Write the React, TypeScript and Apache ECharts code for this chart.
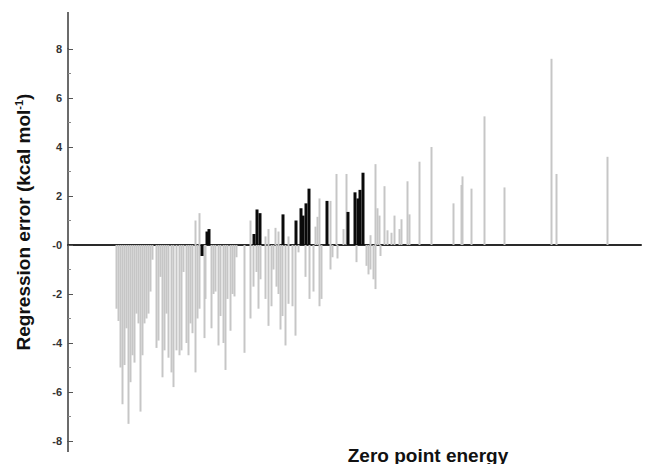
import React, { useEffect, useRef } from "react";
import * as echarts from "echarts";

// Zero point energy position (arbitrary units along the axis) and regression error (kcal/mol)
const grayZpe = [
  49, 51, 53, 55, 57, 59, 61, 63, 65, 67, 69, 71, 73, 75, 77, 79, 81, 83, 85, 89,
  91, 93, 95, 97, 99, 101, 104, 106, 109, 112, 114, 116, 119, 121, 123, 125, 128, 128, 130, 132,
  132, 137, 138, 144, 146, 148, 151, 153, 156, 158, 160, 163, 165, 167, 169, 177, 183, 183, 186, 189,
  191, 193, 198, 198, 201, 201, 204, 206, 208, 209, 211, 211, 213, 215, 218, 221, 221, 225, 228, 231,
  238, 242, 246, 248, 250, 252, 252, 254, 263, 263, 265, 269, 270, 276, 279, 289, 299, 301, 303, 303,
  306, 308, 308, 310, 312, 313, 317, 320, 324, 327, 332, 334, 340, 342, 352, 364, 386, 394, 395, 404,
  417, 437, 484, 489, 540,
];
const grayErr = [
  -2.6, -3.1, -5.0, -6.5, -4.9, -3.4, -7.3, -5.6, -4.5, -4.8, -2.8, -3.2, -6.8, -4.5, -3.2, -3.0, -2.8, -1.9, -0.6, -4.2,
  -3.9, -1.3, -5.4, -4.3, -2.8, -4.6, -5.2, -5.8, -4.3, -4.5, -4.3, -1.1, -4.0, -4.5, -3.2, -3.6, -5.2, 1.0, -3.0, 1.3,
  -2.6, -3.8, -2.2, -3.4, -2.0, -1.9, -4.1, -2.9, -4.0, -5.1, -2.2, -3.5, -2.0, -2.1, -0.5, -4.4, 1.0, -3.0, -1.7, -1.1,
  -2.6, -1.4, 0.35, -2.2, 0.65, -3.3, -2.5, -1.0, 0.7, -1.7, 0.55, -2.0, -3.45, -2.9, -4.1, -2.4, 0.35, -2.5, -3.7, -0.3,
  -1.3, -2.2, -1.9, 0.75, 1.15, 1.9, -2.5, -2.2, 1.8, -1.0, -0.5, 2.9, -0.55, 0.65, 2.9, -0.7, -0.85, -1.2, 0.4, -1.0,
  -1.4, 3.3, -1.8, 1.5, 1.2, -0.45, 2.4, 0.6, 0.5, 1.2, 0.65, 1.05, 2.6, 1.25, 3.4, 4.0, 1.7, 2.45, 2.8, 2.3,
  5.25, 2.35, 7.6, 2.9, 3.6,
];
const blackZpe = [134, 139, 141, 186, 189, 192, 215, 228, 233, 235, 238, 241, 259, 280, 287, 290, 292, 295];
const blackErr = [-0.45, 0.55, 0.65, 0.45, 1.45, 1.3, 1.25, 1.0, 1.5, 1.2, 1.7, 2.3, 1.8, 1.35, 2.15, 1.9, 2.25, 2.95];

const yTicks = [-8, -6, -4, -2, 0, 2, 4, 6, 8];

const FONT = "'Liberation Sans', Arial, sans-serif";

export default function App() {
  const ref = useRef<HTMLDivElement>(null);

  useEffect(() => {
    document.body.style.margin = "0";
    if (!ref.current) return;
    const chart = echarts.init(ref.current, null, { renderer: "svg" });
    const left = 68;
    const top = 49;
    const bottom = 441;
    chart.setOption({
      animation: false,
      backgroundColor: "#ffffff",
      grid: { left, right: 8, top, bottom: 464 - bottom },
      xAxis: {
        type: "value",
        min: 0,
        max: 573,
        axisLine: { show: true, onZero: true, lineStyle: { color: "#2a2a2a", width: 2 } },
        axisTick: { show: false },
        axisLabel: { show: false },
        splitLine: { show: false },
      },
      yAxis: {
        type: "value",
        min: yTicks[0],
        max: yTicks[yTicks.length - 1],
        interval: 2,
        axisLine: { show: true, onZero: false, lineStyle: { color: "#3a3a3a", width: 1.5 } },
        axisTick: { show: true, inside: true, length: 5, lineStyle: { color: "#555555" } },
        minorTick: { show: true, splitNumber: 2, length: 3, lineStyle: { color: "#888888" } },
        axisLabel: {
          formatter: (v: number) => (v === 0 ? "-0" : String(v)),
          fontWeight: "bold",
          fontSize: 11,
          color: "#333333",
          fontFamily: FONT,
          margin: 6,
        },
        splitLine: { show: false },
      },
      series: [
        {
          type: "bar",
          data: grayZpe.map((x, i) => [x, grayErr[i]]),
          barWidth: 2,
          barGap: "-100%",
          itemStyle: { color: "#c6c6c6" },
        },
        {
          type: "bar",
          data: blackZpe.map((x, i) => [x, blackErr[i]]),
          barWidth: 3,
          barGap: "-100%",
          itemStyle: { color: "#0a0a0a" },
        },
      ],
      graphic: [
        {
          type: "line",
          shape: { x1: left, y1: 12, x2: left, y2: top },
          style: { stroke: "#3a3a3a", lineWidth: 1.5 },
        },
        {
          type: "line",
          shape: { x1: left, y1: bottom, x2: left, y2: 452 },
          style: { stroke: "#3a3a3a", lineWidth: 1.5 },
        },
        {
          type: "text",
          x: 23,
          y: 222,
          rotation: Math.PI / 2,
          style: {
            text: "{a|Regression error (kcal mol}{s|-1}{a|)}",
            align: "center",
            verticalAlign: "middle",
            rich: {
              a: { fontSize: 19, fontWeight: "bold", fontFamily: FONT, fill: "#111111" },
              s: { fontSize: 11, fontWeight: "bold", fontFamily: FONT, fill: "#111111", verticalAlign: "top" },
            },
          },
        },
        {
          type: "text",
          x: 428,
          y: 455,
          style: {
            text: "Zero point energy",
            align: "center",
            verticalAlign: "middle",
            fontSize: 19,
            fontWeight: "bold",
            fontFamily: FONT,
            fill: "#111111",
          },
        },
      ],
    });
    return () => chart.dispose();
  }, []);

  return <div ref={ref} style={{ width: 649, height: 464 }} />;
}
